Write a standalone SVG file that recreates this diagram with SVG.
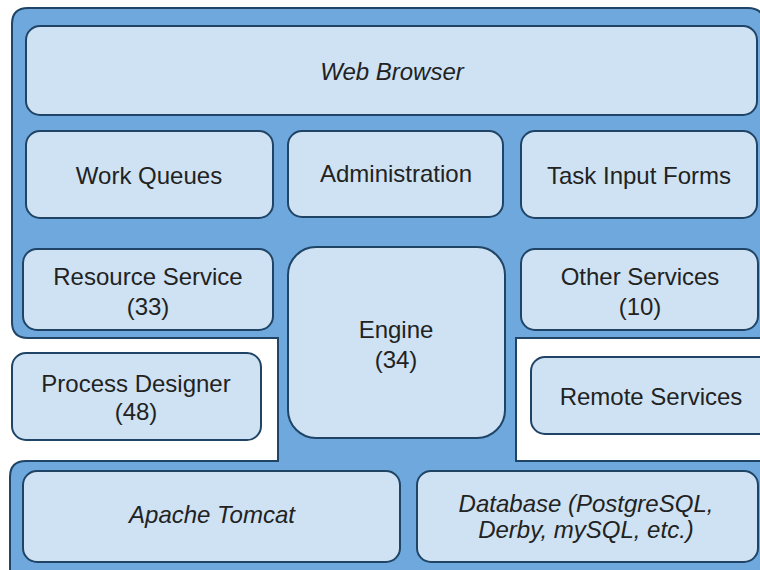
<svg xmlns="http://www.w3.org/2000/svg" width="760" height="570" viewBox="0 0 760 570">
  <style>
    .frame { fill: #6fa8dc; stroke: #1f4466; stroke-width: 2; }
    .box { fill: #cfe2f3; stroke: #1f4466; stroke-width: 2; }
    .label { font-family: "Liberation Sans", Arial, sans-serif; font-size: 24px; fill: #222222; text-anchor: middle; }
    .it { font-style: italic; }
  </style>
  <rect width="760" height="570" fill="#ffffff"/>

  <!-- platform background: top tier, engine column, bottom tier -->
  <g id="platform">
    <path class="frame" d="M 28 8 H 748 Q 764 8 764 24 V 338 H 516 V 461 H 764 V 580 H 10 V 477 Q 10 461 26 461 H 278 V 338 H 28 Q 12 338 12 322 V 24 Q 12 8 28 8 Z"/>
  </g>

  <g id="web-browser">
    <rect class="box" x="26" y="26" width="731" height="89" rx="14"/>
    <text class="label it" x="392" y="80">Web Browser</text>
  </g>

  <g id="work-queues">
    <rect class="box" x="26" y="131" width="247" height="87" rx="14"/>
    <text class="label" x="149" y="184">Work Queues</text>
  </g>

  <g id="administration">
    <rect class="box" x="288" y="131" width="215" height="86" rx="14"/>
    <text class="label" x="396" y="182">Administration</text>
  </g>

  <g id="task-input-forms">
    <rect class="box" x="521" y="131" width="236" height="87" rx="14"/>
    <text class="label" x="639" y="184">Task Input Forms</text>
  </g>

  <g id="resource-service">
    <rect class="box" x="23" y="249" width="250" height="81" rx="14"/>
    <text class="label" x="148" y="285">Resource Service</text>
    <text class="label" x="148" y="315">(33)</text>
  </g>

  <g id="engine">
    <rect class="box" x="288" y="247" width="217" height="191" rx="28"/>
    <text class="label" x="396" y="338">Engine</text>
    <text class="label" x="396" y="368">(34)</text>
  </g>

  <g id="other-services">
    <rect class="box" x="521" y="249" width="237" height="81" rx="14"/>
    <text class="label" x="640" y="285">Other Services</text>
    <text class="label" x="640" y="315">(10)</text>
  </g>

  <g id="process-designer">
    <rect class="box" x="12" y="353" width="249" height="87" rx="14"/>
    <text class="label" x="136" y="392">Process Designer</text>
    <text class="label" x="136" y="420">(48)</text>
  </g>

  <g id="remote-services">
    <rect class="box" x="531" y="357" width="245" height="77" rx="14"/>
    <text class="label" x="651" y="405">Remote Services</text>
  </g>

  <g id="apache-tomcat">
    <rect class="box" x="23" y="471" width="377" height="91" rx="14"/>
    <text class="label it" x="212" y="523">Apache Tomcat</text>
  </g>

  <g id="database">
    <rect class="box" x="417" y="471" width="341" height="91" rx="14"/>
    <text class="label it" x="586" y="512">Database (PostgreSQL,</text>
    <text class="label it" x="586" y="538">Derby, mySQL, etc.)</text>
  </g>

  <g id="connectors"></g>
</svg>
